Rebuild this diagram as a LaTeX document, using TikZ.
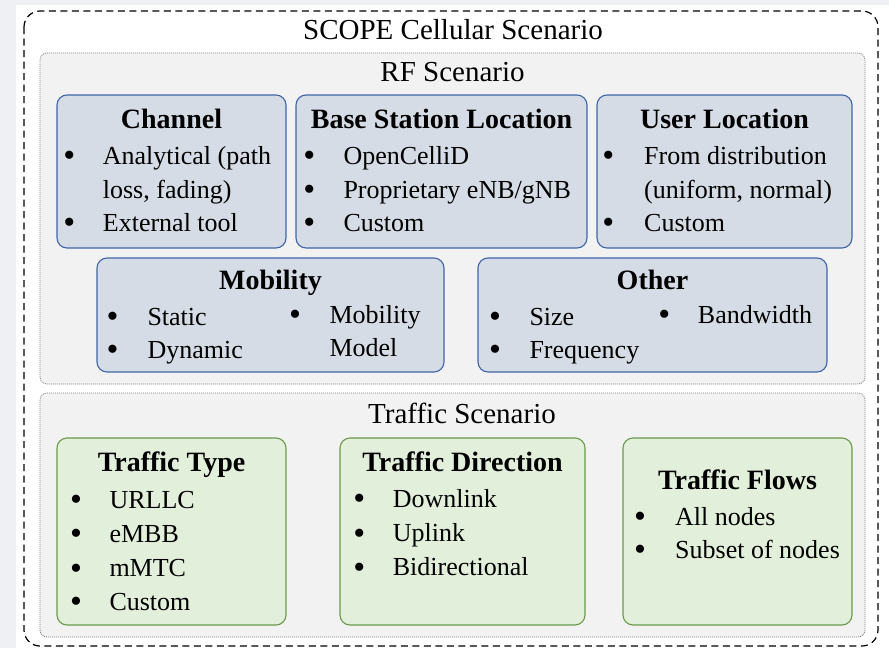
\documentclass[tikz,border=0pt]{standalone}
\usepackage{fontspec}
\setmainfont{Liberation Serif}
\definecolor{pagebg}{HTML}{EEF0F4}
\definecolor{panelfill}{HTML}{F2F2F2}
\definecolor{paneldraw}{HTML}{7F7F7F}
\definecolor{bluefill}{HTML}{D6DCE5}
\definecolor{bluedraw}{HTML}{3F65A9}
\definecolor{greenfill}{HTML}{E2EFDA}
\definecolor{greendraw}{HTML}{6A9A4A}
\tikzset{
  outerbox/.style={draw=black, line width=1.2pt, dash pattern=on 7pt off 4.5pt, rounded corners=16pt},
  panel/.style={draw=paneldraw, fill=panelfill, line width=0.8pt, dash pattern=on 1pt off 1pt, rounded corners=7pt},
  bluebox/.style={draw=bluedraw, fill=bluefill, line width=1.1pt, rounded corners=10pt},
  greenbox/.style={draw=greendraw, fill=greenfill, line width=1.1pt, rounded corners=10pt},
  ttl/.style={font=\fontsize{29}{29}\selectfont, anchor=base, inner sep=0pt},
  hd/.style={font=\bfseries\fontsize{28}{28}\selectfont, anchor=base, inner sep=0pt},
  itm/.style={font=\fontsize{26}{26}\selectfont, anchor=base west, inner sep=0pt},
  bul/.style={font=\fontsize{34}{34}\selectfont, anchor=base, inner sep=0pt, yshift=-2.4pt},
}
\begin{document}
\begin{tikzpicture}[x=1pt, y=-1pt]
\useasboundingbox (0,0) rectangle (889,648);
\fill[pagebg] (0,0) rectangle (889,648);
\fill[white] (16,5) rectangle (889,648);
% outer
\draw[outerbox] (24,11) rectangle (878,646);
\node[ttl] (title) at (453,39.3) {SCOPE Cellular Scenario};
% RF panel
\draw[panel] (40,53) rectangle (865,384);
\node[ttl] (rftitle) at (452.5,81.7) {RF Scenario};
% Channel
\draw[bluebox] (57,95) rectangle (286,248);
\node[hd] (chh) at (171.5,128.5) {Channel};
\node[bul] (chb1) at (69.3,164.5) {\textbullet};
\node[itm] (cht1) at (102.7,164.5) {Analytical (path};
\node[itm] (cht2) at (102.7,198) {loss, fading)};
\node[bul] (chb3) at (69.3,231.5) {\textbullet};
\node[itm] (cht3) at (102.7,231.5) {External tool};
% Base Station
\draw[bluebox] (296,95) rectangle (587,248);
\node[hd] (bsh) at (441.5,128.5) {Base Station Location};
\node[bul] (bsb1) at (309.3,164.5) {\textbullet};
\node[itm] (bst1) at (343.3,164.5) {OpenCelliD};
\node[bul] (bsb2) at (309.3,198) {\textbullet};
\node[itm] (bst2) at (343.3,198) {Proprietary eNB/gNB};
\node[bul] (bsb3) at (309.3,231.5) {\textbullet};
\node[itm] (bst3) at (343.3,231.5) {Custom};
% User Location
\draw[bluebox] (597,95) rectangle (852,248);
\node[hd] (ulh) at (724.5,128.5) {User Location};
\node[bul] (ulb1) at (608.3,164.5) {\textbullet};
\node[itm] (ult1) at (644,164.5) {From distribution};
\node[itm] (ult2) at (644,198) {(uniform, normal)};
\node[bul] (ulb3) at (608.3,231.5) {\textbullet};
\node[itm] (ult3) at (644,231.5) {Custom};
% Mobility
\draw[bluebox] (97,258) rectangle (444,372);
\node[hd] (moh) at (270.5,289.3) {Mobility};
\node[bul] (mob1) at (112.7,325) {\textbullet};
\node[itm] (mot1) at (147.3,325) {Static};
\node[bul] (mob2) at (112.7,358.3) {\textbullet};
\node[itm] (mot2) at (147.3,358.3) {Dynamic};
\node[bul] (mob3) at (295,323.3) {\textbullet};
\node[itm] (mot3) at (329.3,323.3) {Mobility};
\node[itm] (mot4) at (329.3,356.7) {Model};
% Other
\draw[bluebox] (478,258) rectangle (827,372);
\node[hd] (oth) at (652.5,289.3) {Other};
\node[bul] (otb1) at (495,325) {\textbullet};
\node[itm] (ott1) at (529.3,325) {Size};
\node[bul] (otb2) at (495,358.3) {\textbullet};
\node[itm] (ott2) at (529.3,358.3) {Frequency};
\node[bul] (otb3) at (664.3,323.3) {\textbullet};
\node[itm] (ott3) at (697.7,323.3) {Bandwidth};
% Traffic panel
\draw[panel] (40,393) rectangle (865,637);
\node[ttl] (trtitle) at (462,423) {Traffic Scenario};
% Traffic Type
\draw[greenbox] (57,438) rectangle (286,625);
\node[hd] (tth) at (171.5,471.7) {Traffic Type};
\node[bul] (ttb1) at (76,508.3) {\textbullet};
\node[itm] (ttt1) at (109.3,508.3) {URLLC};
\node[bul] (ttb2) at (76,542.3) {\textbullet};
\node[itm] (ttt2) at (109.3,542.3) {eMBB};
\node[bul] (ttb3) at (76,576.7) {\textbullet};
\node[itm] (ttt3) at (109.3,576.7) {mMTC};
\node[bul] (ttb4) at (76,610) {\textbullet};
\node[itm] (ttt4) at (109.3,610) {Custom};
% Traffic Direction
\draw[greenbox] (340,438) rectangle (585,625);
\node[hd] (tdh) at (462.5,471.7) {Traffic Direction};
\node[bul] (tdb1) at (359.3,507.3) {\textbullet};
\node[itm] (tdt1) at (392.7,507.3) {Downlink};
\node[bul] (tdb2) at (359.3,541.7) {\textbullet};
\node[itm] (tdt2) at (392.7,541.7) {Uplink};
\node[bul] (tdb3) at (359.3,575.7) {\textbullet};
\node[itm] (tdt3) at (392.7,575.7) {Bidirectional};
% Traffic Flows
\draw[greenbox] (623,438) rectangle (852,625);
\node[hd] (tfh) at (737.5,489.3) {Traffic Flows};
\node[bul] (tfb1) at (640,525) {\textbullet};
\node[itm] (tft1) at (675,525) {All nodes};
\node[bul] (tfb2) at (640,558.3) {\textbullet};
\node[itm] (tft2) at (675,558.3) {Subset of nodes};
\end{tikzpicture}
\end{document}
